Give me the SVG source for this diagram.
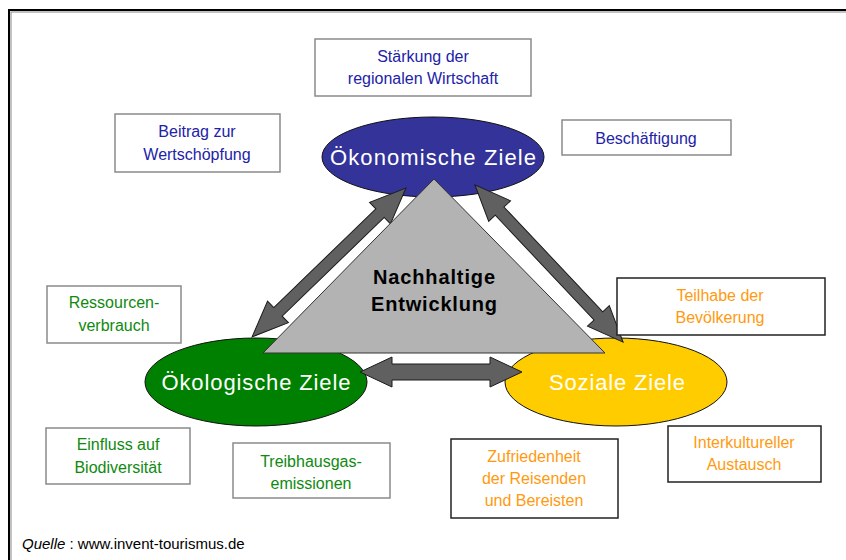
<svg xmlns="http://www.w3.org/2000/svg" width="846" height="560" viewBox="0 0 846 560">
<style>
.box{fill:#fff;stroke:#8a8a8a;stroke-width:1.5}
.boxd{fill:#fff;stroke:#222;stroke-width:1.5}
.t{font-family:"Liberation Sans",Arial,sans-serif;font-size:16px;text-anchor:middle}
.blue{fill:#2222a8}
.green{fill:#0f8a0f}
.orange{fill:#ff9a10}
.el{font-family:"Liberation Sans",Arial,sans-serif;font-size:22px;fill:#fff;text-anchor:middle}
.arrow{fill:#606060;stroke:#1a1a1a;stroke-width:1}
</style>
<rect x="0" y="0" width="846" height="560" fill="#fff"/>
<rect x="9" y="10" width="900" height="600" fill="none" stroke="#000" stroke-width="2"/>
<rect x="11" y="12" width="900" height="600" fill="none" stroke="#999" stroke-width="1.2"/>

<g id="oekonomisch">
<ellipse cx="433" cy="157" rx="111" ry="40" fill="#333399" stroke="#111" stroke-width="1"/>
<text class="el" x="433" y="165" textLength="206" lengthAdjust="spacing">Ökonomische Ziele</text>
</g>
<g id="oekologisch">
<ellipse cx="256" cy="382" rx="111" ry="44" fill="#008000" stroke="#111" stroke-width="1"/>
<text class="el" x="256" y="390" textLength="189" lengthAdjust="spacing">Ökologische Ziele</text>
</g>
<g id="sozial">
<ellipse cx="616" cy="382" rx="111" ry="44" fill="#ffcc00" stroke="#111" stroke-width="1"/>
<text class="el" x="617" y="390" textLength="136" lengthAdjust="spacing">Soziale Ziele</text>
</g>

<g id="connectors">
<path class="arrow" transform="translate(329,262.5) rotate(-44.05)" d="M-107,0 L-71,-15 L-71,-6 L71,-6 L71,-15 L107,0 L71,15 L71,6 L-71,6 L-71,15 Z"/>
<path class="arrow" transform="translate(549,263.5) rotate(46.7)" d="M-108,0 L-72,-15 L-72,-6 L72,-6 L72,-15 L108,0 L72,15 L72,6 L-72,6 L-72,15 Z"/>
<path class="arrow" d="M360,372 L392,357 L392,364 L490,364 L490,357 L522,372 L490,387 L490,380 L392,380 L392,387 Z"/>
</g>

<g id="nachhaltig">
<polygon points="434,179 605,353 263,353" fill="#b3b3b3" stroke="#333" stroke-width="1"/>
<text font-family="'Liberation Sans',Arial,sans-serif" font-size="20" font-weight="bold" fill="#000" text-anchor="middle"><tspan x="434" y="284" textLength="122" lengthAdjust="spacing">Nachhaltige</tspan><tspan x="434" y="311" textLength="126" lengthAdjust="spacing">Entwicklung</tspan></text>
</g>

<g id="staerkung">
<rect class="box" x="315" y="39" width="216" height="57"/>
<text class="t blue"><tspan x="423" y="62">Stärkung der</tspan><tspan x="423" y="84">regionalen Wirtschaft</tspan></text>
</g>
<g id="beitrag">
<rect class="box" x="115" y="114" width="165" height="58"/>
<text class="t blue"><tspan x="197" y="137">Beitrag zur</tspan><tspan x="197" y="160">Wertschöpfung</tspan></text>
</g>
<g id="beschaeftigung">
<rect class="box" x="562" y="120" width="169" height="35"/>
<text class="t blue"><tspan x="646" y="144">Beschäftigung</tspan></text>
</g>
<g id="ressourcen">
<rect class="box" x="47" y="286" width="134" height="57"/>
<text class="t green"><tspan x="114" y="308">Ressourcen-</tspan><tspan x="114" y="331">verbrauch</tspan></text>
</g>
<g id="teilhabe">
<rect class="boxd" x="617" y="278" width="208" height="57"/>
<text class="t orange"><tspan x="720" y="301">Teilhabe der</tspan><tspan x="720" y="323">Bevölkerung</tspan></text>
</g>
<g id="einfluss">
<rect class="box" x="46" y="428" width="144" height="56"/>
<text class="t green"><tspan x="118" y="450">Einfluss auf</tspan><tspan x="118" y="473">Biodiversität</tspan></text>
</g>
<g id="treibhaus">
<rect class="box" x="233" y="443" width="157" height="55"/>
<text class="t green"><tspan x="311" y="467">Treibhausgas-</tspan><tspan x="311" y="489">emissionen</tspan></text>
</g>
<g id="zufriedenheit">
<rect class="boxd" x="451" y="439" width="167" height="79"/>
<text class="t orange"><tspan x="534" y="462">Zufriedenheit</tspan><tspan x="534" y="484">der Reisenden</tspan><tspan x="534" y="506">und Bereisten</tspan></text>
</g>
<g id="interkulturell">
<rect class="boxd" x="668" y="426" width="153" height="56"/>
<text class="t orange"><tspan x="744" y="448">Interkultureller</tspan><tspan x="744" y="470">Austausch</tspan></text>
</g>

<text x="22" y="549" font-family="'Liberation Sans',Arial,sans-serif" font-size="15" fill="#000"><tspan font-style="italic">Quelle</tspan> : www.invent-tourismus.de</text>
</svg>
